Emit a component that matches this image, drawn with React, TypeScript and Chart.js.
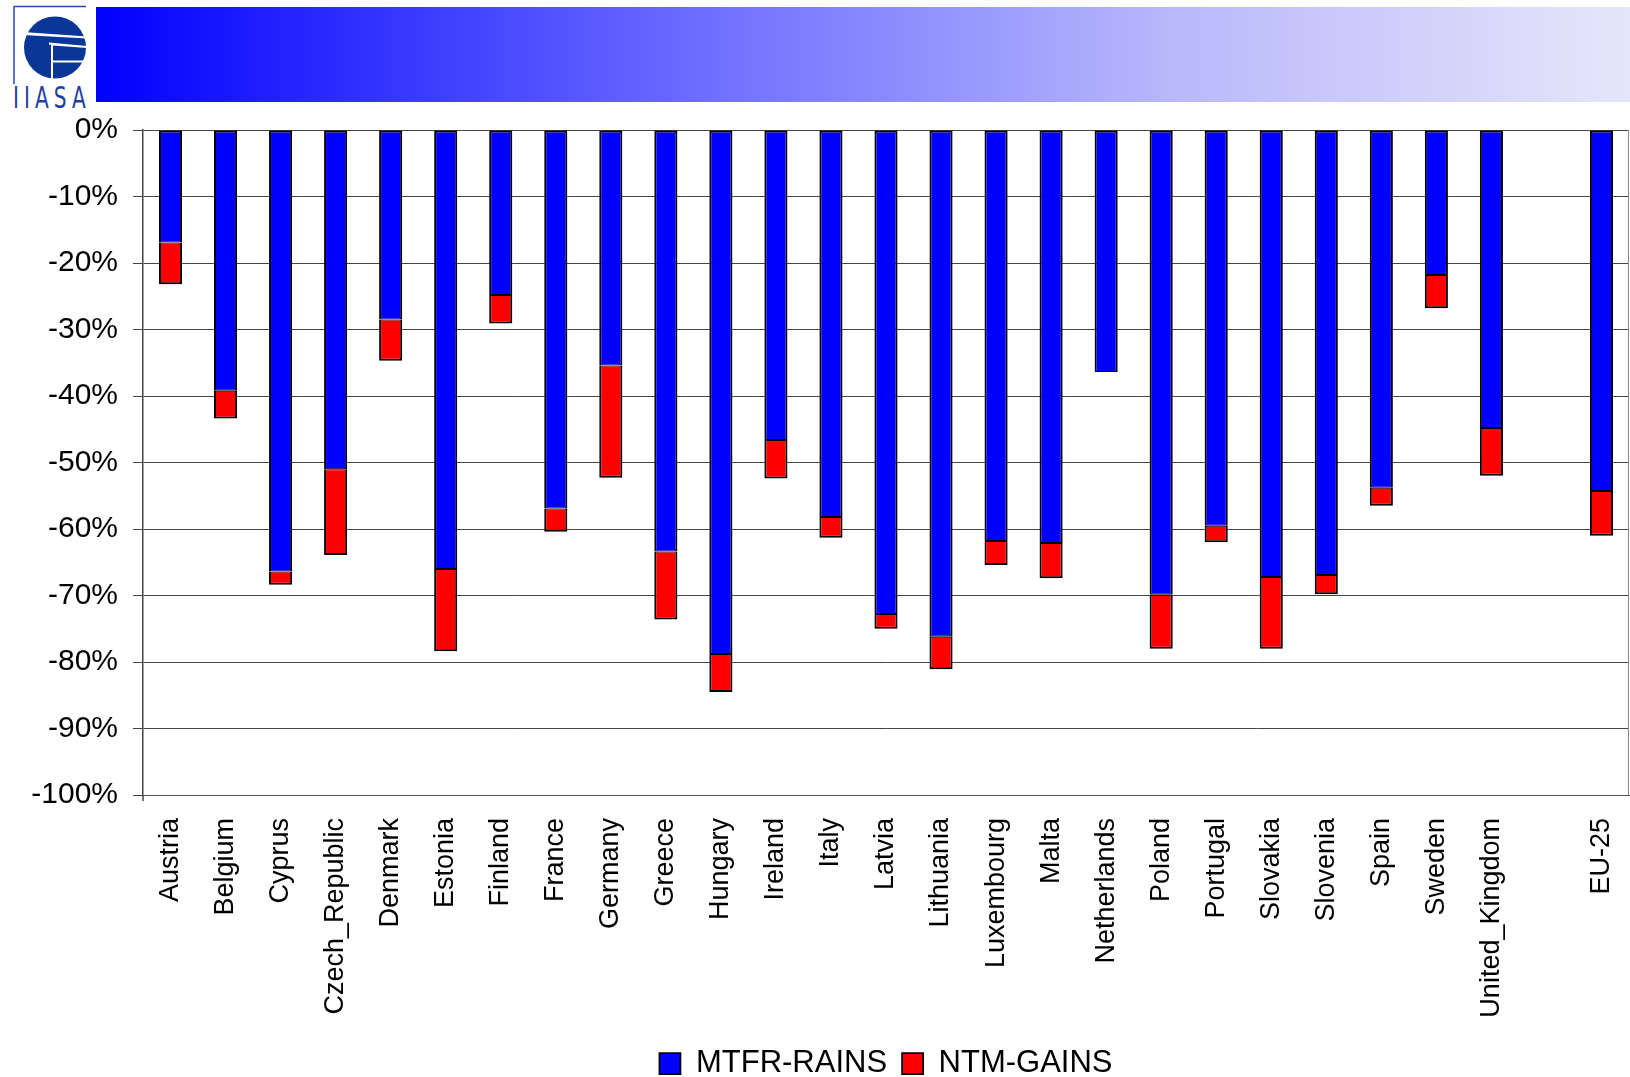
import React, { useEffect, useRef } from "react";
import { Chart, registerables } from "chart.js";

Chart.register(...registerables);

const categories = [
  "Austria", "Belgium", "Cyprus", "Czech_Republic", "Denmark", "Estonia", "Finland",
  "France", "Germany", "Greece", "Hungary", "Ireland", "Italy", "Latvia", "Lithuania",
  "Luxembourg", "Malta", "Netherlands", "Poland", "Portugal", "Slovakia", "Slovenia",
  "Spain", "Sweden", "United_Kingdom", "", "EU-25",
];

// MTFR-RAINS reduction (%), blue segment
const mtfrRains = [
  -16.9, -39.2, -66.4, -51.0, -28.5, -66.0, -24.8,
  -56.9, -35.4, -63.4, -78.8, -46.6, -58.2, -72.8, -76.2,
  -61.8, -62.1, -36.4, -69.9, -59.5, -67.2, -66.9,
  -53.8, -21.8, -44.8, null, -54.3,
];

// NTM-GAINS additional reduction (%), red segment stacked below
const ntmGains = [
  -6.3, -4.2, -2.0, -12.9, -6.2, -12.4, -4.3,
  -3.5, -16.9, -10.2, -5.7, -5.8, -3.1, -2.2, -4.9,
  -3.6, -5.3, null, -8.1, -2.5, -10.8, -2.9,
  -2.7, -5.0, -7.2, null, -6.7,
];

const yTicks = [0, -10, -20, -30, -40, -50, -60, -70, -80, -90, -100];

const FONT = "'Liberation Sans', Arial, Helvetica, sans-serif";

export default function App() {
  const ref = useRef<HTMLCanvasElement | null>(null);

  useEffect(() => {
    if (!ref.current) return;
    const borderPlugin = {
      id: "frameBorder",
      afterDraw(chart: any) {
        const { ctx, chartArea } = chart;
        ctx.save();
        ctx.strokeStyle = "#888";
        ctx.lineWidth = 1;
        ctx.beginPath();
        const x = Math.round(chartArea.right) - 0.5;
        ctx.moveTo(x, chartArea.top);
        ctx.lineTo(x, chartArea.bottom);
        ctx.stroke();
        ctx.strokeStyle = "#444";
        ctx.lineWidth = 1.5;
        ctx.beginPath();
        ctx.moveTo(chartArea.left, chartArea.bottom);
        ctx.lineTo(chartArea.left, chartArea.bottom + 6);
        ctx.stroke();
        ctx.restore();
      },
    };
    const chart = new Chart(ref.current, {
      type: "bar",
      data: {
        labels: categories,
        datasets: [
          {
            label: "MTFR-RAINS",
            data: mtfrRains,
            backgroundColor: "#0000ff",
            borderColor: "#000000",
            borderWidth: { top: 2, left: 2, right: 2, bottom: 1 },
            borderSkipped: false,
            barPercentage: 0.42,
            categoryPercentage: 1,
          },
          {
            label: "NTM-GAINS",
            data: ntmGains,
            backgroundColor: "#ff0000",
            borderColor: "#000000",
            borderWidth: { top: 1, left: 2, right: 2, bottom: 2 },
            borderSkipped: false,
            barPercentage: 0.42,
            categoryPercentage: 1,
          },
        ],
      },
      options: {
        responsive: false,
        animation: false,
        maintainAspectRatio: false,
        layout: { padding: { top: 130, left: 0, right: 1, bottom: 0 } },
        plugins: {
          tooltip: { enabled: false },
          legend: {
            position: "bottom",
            fullSize: false,
            labels: {
              boxWidth: 21,
              boxHeight: 21,
              padding: 15,
              color: "#000",
              font: { family: FONT, size: 31 },
            },
          },
        },
        scales: {
          x: {
            stacked: true,
            grid: { display: false },
            border: { display: true, color: "#555", width: 1 },
            ticks: {
              autoSkip: false,
              maxRotation: 90,
              minRotation: 90,
              padding: 15,
              color: "#000",
              font: { family: FONT, size: 27 },
            },
            afterFit(scale: any) {
              scale.height = 238;
              scale.paddingLeft = 0;
              scale.paddingRight = 0;
            },
          },
          y: {
            stacked: true,
            min: -100,
            max: 0,
            afterBuildTicks(scale: any) {
              scale.ticks = yTicks.map((v) => ({ value: v }));
            },
            grid: { color: "#444", lineWidth: 1, tickLength: 10, drawTicks: true },
            border: { display: true, color: "#444", width: 1.5 },
            ticks: {
              padding: 15,
              color: "#000",
              font: { family: FONT, size: 30 },
              callback: (v: any) => `${v}%`,
            },
            afterFit(scale: any) {
              scale.width = 143;
            },
          },
        },
      },
      plugins: [borderPlugin],
    });
    return () => chart.destroy();
  }, []);

  return (
    <div style={{ position: "absolute", left: 0, top: 0, width: 1630, height: 1077, background: "#fff", overflow: "hidden" }}>
      <svg width={96} height={112} style={{ position: "absolute", left: 0, top: 0 }}>
        <line x1={14} y1={6.5} x2={86} y2={6.5} stroke="#2a4aa8" strokeWidth={1.5} />
        <line x1={14} y1={6} x2={14} y2={84} stroke="#2a4aa8" strokeWidth={1.5} />
        <circle cx={55} cy={47.5} r={31} fill="#0a3697" />
        <polygon points="23,32 87,36.5 87,38.5 23,35" fill="#fff" />
        <polygon points="49,42.5 87,46 87,48 53,45.5 53,80 51,80 51,44.8 49,44.5" fill="#fff" />
        <rect x={52} y={60.5} width={36} height={2} fill="#fff" />
        <text x={13} y={108} fontSize={28} fill="#1f3f9f" textLength={91} lengthAdjust="spacing"
          transform="translate(13 108) scale(0.8 1.05) translate(-13 -108)"
          style={{ fontFamily: "'DejaVu Sans Condensed', 'Liberation Sans Narrow', sans-serif", fontWeight: 300 }}>
          IIASA
        </text>
      </svg>
      <div
        style={{
          position: "absolute",
          left: 96,
          top: 7,
          width: 1534,
          height: 95,
          background: "linear-gradient(to right, #0000ff 0%, #6f6fff 40%, #b8b8fb 70%, #e6e6fa 100%)",
        }}
      />
      <canvas ref={ref} width={1630} height={1089} style={{ position: "absolute", left: 0, top: 0, width: 1630, height: 1089 }} />
    </div>
  );
}
